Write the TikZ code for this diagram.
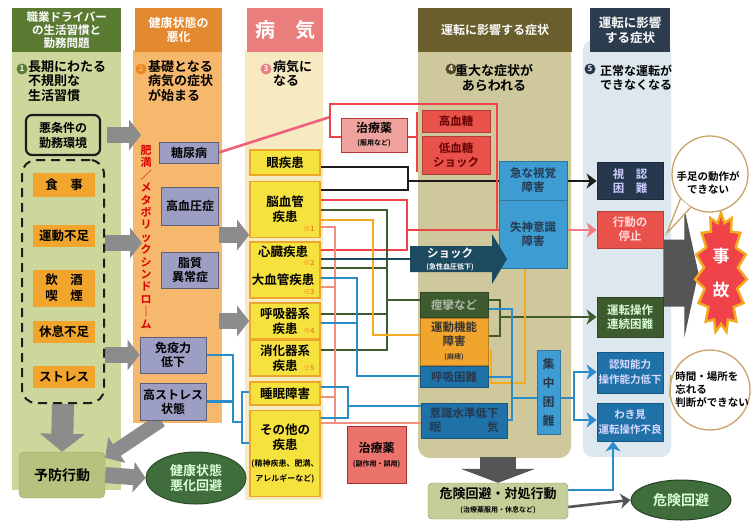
\documentclass[tikz,border=0pt]{standalone}
\usepackage{fontspec}
\setmainfont{Noto Sans CJK JP}[BoldFont={Noto Sans CJK JP Bold}]
\usetikzlibrary{arrows.meta,shapes.symbols,shapes.geometric}

\newcommand\jfs[2]{\fontsize{#1}{#2}\selectfont}

\definecolor{ghead}{HTML}{5B7B33}
\definecolor{gbody}{HTML}{CDD79C}
\definecolor{ohead}{HTML}{E3892F}
\definecolor{obody}{HTML}{F6B86C}
\definecolor{phead}{HTML}{EA7E7C}
\definecolor{pbody}{HTML}{F7E9C2}
\definecolor{khead}{HTML}{6A5E2C}
\definecolor{kbody}{HTML}{CEC89C}
\definecolor{nhead}{HTML}{2C3B4E}
\definecolor{nbody}{HTML}{DCE7EE}
\definecolor{orbx}{HTML}{F1A52C}
\definecolor{pubx}{HTML}{9D9EC3}
\definecolor{yebx}{HTML}{F6E23E}
\definecolor{yedr}{HTML}{EBA62B}
\definecolor{blbx}{HTML}{3D9DD3}
\definecolor{dbbx}{HTML}{1F72A8}
\definecolor{rdbx}{HTML}{E9524B}
\definecolor{pkbx}{HTML}{F0A39E}
\definecolor{dgbx}{HTML}{3E5A2F}
\definecolor{nvbx}{HTML}{27384E}
\definecolor{lgbx}{HTML}{B7C27E}
\definecolor{egrn}{HTML}{3F6D3B}
\definecolor{garr}{HTML}{8C8C8C}
\definecolor{darr}{HTML}{555555}
\definecolor{cred}{HTML}{EF4249}
\definecolor{cpnk}{HTML}{F0607A}
\definecolor{csal}{HTML}{F2907F}
\definecolor{cgrn}{HTML}{3F5B2F}
\definecolor{corg}{HTML}{F3AA1F}
\definecolor{cblu}{HTML}{2A8DC9}
\definecolor{cnav}{HTML}{1E4A5F}
\definecolor{cblk}{HTML}{1C1C1C}
\definecolor{bubc}{HTML}{C9A46A}

\pgfdeclarelayer{back}
\pgfdeclarelayer{wires}
\pgfsetlayers{back,wires,main}

\begin{document}
\begin{tikzpicture}[x=1pt,y=-1pt,
  every node/.style={align=center,inner sep=0pt,font=\bfseries},
  hd/.style={text=white,anchor=north west,minimum height=44,font=\bfseries\jfs{12}{14}},
  lead/.style={align=left,anchor=north west,font=\bfseries\jfs{13}{14.5}},
  num/.style={circle,minimum size=11,text=white,font=\bfseries\jfs{8}{8}},
  obox/.style={fill=orbx,minimum width=62,font=\bfseries\jfs{12.5}{16}},
  pbox/.style={draw=pubx!60!black,line width=0.8pt,fill=pubx,font=\bfseries\jfs{12}{14}},
  ybox/.style={draw=yedr,line width=1.6pt,fill=yebx,minimum width=70,font=\bfseries\jfs{12.5}{15}},
  note/.style={text=yedr!80!red,font=\bfseries\jfs{7}{7}},
  sbox/.style={draw=#1!75!black,line width=0.8pt,fill=#1,font=\bfseries\jfs{11.5}{14}},
  wire/.style={line width=2.6pt},
  arrtip/.style={-{Stealth[length=10pt,width=15pt,inset=3pt]}},
  blk/.style={draw=garr,line width=#1},
  bubble/.style={circle,draw=bubc,line width=1.3pt,fill=white}]

\useasboundingbox (0,0) rectangle (751,520);

% column grounds
\begin{pgfonlayer}{back}
  \fill[white] (0,0) rectangle (751,520);
  \fill[gbody] (12,50) rectangle (121,490);
  \fill[obody] (133,50) rectangle (222,423);
  \fill[pbody] (245,50) rectangle (323,500);
  \fill[kbody,rounded corners=12] (418,40) rectangle (571,458);
  \fill[nbody,rounded corners=10] (583,40) rectangle (671,457);
\end{pgfonlayer}

% headers
\node[hd,fill=ghead,minimum width=109,font=\bfseries\jfs{11.5}{13}] (h1) at (12,8) {職業ドライバー\\の生活習慣と\\勤務問題};
\node[hd,fill=ohead,minimum width=87] (h2) at (135,8) {健康状態の\\悪化};
\node[hd,fill=phead,minimum width=76,font=\bfseries\jfs{20}{20}] (h3) at (247,8) {病　気};
\node[hd,fill=khead,minimum width=154] (h4) at (418,8) {運転に影響する症状};
\node[hd,fill=nhead,minimum width=80,font=\bfseries\jfs{12.5}{15}] (h5) at (590,8) {運転に影響\\する症状};

% 1: habits
\node[num,fill=ghead] at (22,69) {1};
\node[lead] (l1) at (28,60) {長期にわたる\\不規則な\\生活習慣};
\node[draw=cblk,line width=2.2pt,rounded corners=6,minimum width=74,minimum height=40,font=\bfseries\jfs{12}{15}] (kinmu) at (63,135) {悪条件の\\勤務環境};
\node[draw=cblk,line width=2pt,dash pattern=on 9pt off 6pt,rounded corners=14,minimum width=82,minimum height=243] (habit) at (63,281.5) {};
\node[obox,minimum height=24] (meal) at (64,185) {食　事};
\node[obox,minimum height=22] (move) at (64,236) {運動不足};
\node[obox,minimum height=37] (drink) at (64,288) {飲　酒\\喫　煙};
\node[obox,minimum height=22] (rest) at (64,332) {休息不足};
\node[obox,minimum height=22] (strs) at (64,377) {ストレス};
\node[fill=lgbx,draw=lgbx!85!black,rounded corners=5,minimum width=86,minimum height=46,font=\bfseries\jfs{14}{16}] (yobou) at (62,475) {予防行動};
\node[ellipse,fill=egrn,draw=egrn!70!black,line width=1pt,minimum width=100,minimum height=52,text=white!85!green,font=\bfseries\jfs{13}{15}] (avoid1) at (196,478) {健康状態\\悪化回避};

% 2: basic illness
\node[num,fill=ohead!80!orange,text=orange!60] at (141,69) {2};
\node[lead] (l2) at (148,60) {基礎となる\\病気の症状\\が始まる};
\node[text=red!85!black,font=\bfseries\jfs{11}{12.4}] (metabo) at (146,237) {肥\\満\\／\\メ\\タ\\ボ\\リ\\ッ\\ク\\シ\\ン\\ド\\ロ\\｜\\ム};
\node[pbox,minimum width=59,minimum height=21] (tonyo) at (189,152.5) {糖尿病};
\node[pbox,minimum width=57,minimum height=38] (ketsuatsu) at (190,206) {高血圧症};
\node[pbox,minimum width=57,minimum height=36] (shishitsu) at (190,270) {脂質\\異常症};
\node[pbox,minimum width=66,minimum height=36] (meneki) at (173,355) {免疫力\\低下};
\node[pbox,minimum width=66,minimum height=37] (kostress) at (173,401.5) {高ストレス\\状態};

% 3: illness
\node[num,fill=phead] at (266,69) {3};
\node[lead] (l3) at (273,60) {病気に\\なる};
\node[ybox,minimum height=25] (gan) at (285,162.5) {眼疾患};
\node[ybox,minimum height=56] (noukekkan) at (285,209.5) {脳血管\\疾患};
\node[note] at (309,229) {※1};
\node[ybox,minimum height=56] (heart) at (285,270) {};
\node[font=\bfseries\jfs{12.5}{15}] (shinzo) at (283,252) {心臓疾患};
\node[note] at (309,263) {※2};
\node[font=\bfseries\jfs{12.5}{15}] (daikekkan) at (283,280) {大血管疾患};
\node[note] at (309,292) {※3};
\node[ybox,minimum height=36] (kokyu) at (285,321) {呼吸器系\\疾患};
\node[note] at (309,331) {※4};
\node[ybox,minimum height=36] (shoka) at (285,358) {消化器系\\疾患};
\node[note] at (309,368) {※5};
\node[ybox,minimum height=23] (suimin) at (285,393.5) {睡眠障害};
\node[ybox,minimum height=86] (sonota) at (285,453.5) {その他の\\疾患\\[2pt]\jfs{8}{10}(精神疾患、肥満、\\\jfs{8}{10}アレルギーなど)};

% medicine
\node[draw=cred!80!black,fill=pkbx,line width=0.8pt,minimum width=66,minimum height=34,font=\bfseries\jfs{12}{13}] (med1) at (374,135) {治療薬\\\jfs{7}{9}(服用など)};
\node[sbox=rdbx,minimum width=68,minimum height=22,text=red!40!black] (hyper) at (456,121) {高血糖};
\node[sbox=rdbx,minimum width=68,minimum height=38,text=red!40!black] (hypo) at (456,155) {低血糖\\ショック};
\node[draw=cred!70!black,fill=rdbx!60!pkbx,line width=0.8pt,minimum width=59,minimum height=57,font=\bfseries\jfs{12}{14}] (med2) at (376.5,455) {治療薬\\\jfs{7}{9}(副作用・誤用)};

% 4: serious symptoms
\node[num,fill=khead!80!black] at (451,69) {4};
\node[lead,anchor=center,align=center] (l4) at (494,78) {重大な症状が\\あらわれる};
\node[sbox=blbx,minimum width=68,minimum height=39,text=nvbx] (shikaku) at (533,180.5) {急な視覚\\障害};
\node[sbox=blbx,minimum width=68,minimum height=68,text=nvbx] (shisshin) at (533,234) {失神意識\\障害};
\fill[cnav] (410,246) -- (492,246) -- (492,234) -- (507,259) -- (492,284) -- (492,272) -- (410,272) -- cycle;
\node[text=white,font=\bfseries\jfs{11.5}{12}] (shock) at (450,259) {ショック\\\jfs{7}{8}(急性血圧低下)};
\node[sbox=dgbx,minimum width=68,minimum height=25,text=dgbx!40!white] (keiren) at (454,305) {痙攣など};
\node[sbox=orbx,minimum width=68,minimum height=47,text=black!80] (undou) at (454,341.5) {運動機能\\障害\\\jfs{7}{8}(麻痺)};
\node[sbox=dbbx,minimum width=68,minimum height=21,text=nvbx] (kokyukon) at (454,377) {呼吸困難};
\node[sbox=dbbx,minimum width=86,minimum height=35,text=nvbx] (ishiki) at (464,420.5) {意識水準低下\\眠　　　　気};
\node[sbox=blbx,minimum width=23,minimum height=84,text=nvbx,font=\bfseries\jfs{12}{19}] (shuchu) at (548.5,392) {集\\中\\困\\難};
\node[fill=lgbx!80!white,draw=lgbx!80!black,rounded corners=4,minimum width=140,minimum height=36,font=\bfseries\jfs{13}{14}] (taisho) at (498,501) {危険回避・対処行動\\\jfs{7}{8}(治療薬服用・休息など)};

% 5: driving fails
\node[num,fill=nvbx] at (590,69) {5};
\node[lead,anchor=center,align=center,font=\bfseries\jfs{12}{14}] (l5) at (636,78) {正常な運転が\\できなくなる};
\node[sbox=nvbx,minimum width=66,minimum height=37,text=white!80!blue] (shinin) at (630,181) {視　認\\困　難};
\node[sbox=rdbx,minimum width=66,minimum height=37,text=white!85!red] (teishi) at (630,229.5) {行動の\\停止};
\node[sbox=dgbx,minimum width=66,minimum height=40,text=white!85!green] (sousa) at (630,317) {運転操作\\連続困難};
\node[sbox=dbbx,minimum width=66,minimum height=41,text=white!85!blue,font=\bfseries\jfs{10.5}{15}] (ninchi) at (630,372.5) {認知能力\\操作能力低下};
\node[sbox=dbbx,minimum width=66,minimum height=38,text=white!85!blue,font=\bfseries\jfs{10.5}{15}] (wakimi) at (630,422) {わき見\\運転操作不良};
\node[starburst,starburst points=15,starburst point height=9pt,random starburst=0,fill=cred,draw=corg,line width=2.5pt,minimum width=52pt,minimum height=120pt,text=white,font=\bfseries\jfs{17}{34}] (jiko) at (721,273) {事\\故};
\node[ellipse,fill=egrn,draw=egrn!60!black,line width=1pt,minimum width=100,minimum height=40,text=white!85!green,font=\bfseries\jfs{14}{16}] (kaihi) at (681,500) {危険回避};

% speech bubbles
\node[bubble,minimum size=76] (b1) at (710,174) {};
\fill[white] (b1.220) -- (667,233) -- (b1.240) -- cycle;
\draw[bubc,line width=1.3pt] (b1.220) -- (667,233) -- (b1.240);
\node[font=\bfseries\jfs{10.5}{13}] (b1t) at (708,183) {手足の動作が\\できない};
\node[bubble,minimum size=80] (b2) at (710,390) {};
\fill[white] (b2.168) -- (671,375) -- (b2.190) -- cycle;
\draw[bubc,line width=1.3pt] (b2.168) -- (671,375) -- (b2.190);
\node[align=left,font=\bfseries\jfs{10.5}{13}] (b2t) at (712,390) {時間・場所を\\忘れる\\判断ができない};

\begin{pgfonlayer}{wires}
  % big grey arrows
  \draw[blk=16pt,-{Triangle[width=30pt,length=12pt]}] ([xshift=6]kinmu.east) -- ++(34,0);
  \draw[blk=16pt,-{Triangle[width=30pt,length=12pt]}] (habit.east |- 0,243) -- ++(37,0);
  \draw[blk=16pt,-{Triangle[width=30pt,length=12pt]}] (habit.east |- meneki) -- (meneki.west);
  \draw[blk=16pt,-{Triangle[width=30pt,length=12pt]}] (ketsuatsu.east |- 0,235) -- (noukekkan.west |- 0,235);
  \draw[blk=16pt,-{Triangle[width=30pt,length=12pt]}] (shishitsu.east |- kokyu) -- (kokyu.west);
  \draw[blk=22pt,-{Triangle[width=44pt,length=18pt]}] (habit.south) -- (yobou.north);
  \draw[blk=14pt,-{Triangle[width=30pt,length=14pt]}] ([xshift=-12]kostress.south) -- ([yshift=-6]yobou.north east);
  \draw[blk=16pt,-{Triangle[width=30pt,length=12pt]}] (yobou.east) -- (avoid1.west);
  \draw[draw=darr,line width=36pt,-{Triangle[width=74pt,length=14pt]}] (taisho.north |- 0,457) -- (taisho.north);
  \draw[draw=darr,line width=67pt,-{Triangle[width=128pt,length=14pt]}] (sousa.east |- jiko) -- (jiko.west);

  % eye line
  \draw[wire,cblk] (gan.east |- 0,167) -- (408,167) -- (408,181);
  \draw[wire,cblk,arrtip] (noukekkan.east |- 0,190) -- (408,190) -- (408,181) -- (shinin.west |- 0,181);
  % red lines
  \draw[wire,cred] (noukekkan.east |- 0,200) -- (407,200) -- (407,250) -- (heart.east |- 0,250);
  \draw[wire,cred] (407,230) -- (shisshin.west |- 0,230);
  \draw[wire,cpnk] (tonyo.east) -- (330,117);
  \draw[wire,cred] (med1.west |- 0,137) -- (330,137) -- (330,104) -- (497,104) -- (497,230);
  \draw[wire,cred] (med1.east |- 0,137) -- (417,137);
  \draw[wire,cred] (417,112) -- (417,172);
  \draw[wire,cred!70!white,arrtip] (shisshin.east |- 0,230) -- (teishi.west |- 0,230);
  % dark green lines
  \draw[wire,cgrn] (noukekkan.east |- 0,210) -- (387,210) -- (387,350) -- (shoka.east |- 0,350);
  \draw[wire,cgrn] (heart.east |- 0,268) -- (387,268);
  \draw[wire,cgrn] (kokyu.east |- 0,314) -- (387,314);
  \draw[wire,cgrn] (387,300) -- (keiren.west |- 0,300);
  \draw[wire,cgrn] (keiren.east |- 0,300) -- (500,300) -- (500,336) -- (undou.east |- 0,336);
  \draw[wire,cgrn,arrtip] (500,317) -- (sousa.west |- 0,317);
  % orange lines
  \draw[wire,corg] (noukekkan.east |- 0,220) -- (373,220) -- (373,335) -- (undou.west |- 0,335);
  \draw[wire,corg] (shisshin.south -| 525,0) -- (525,383) -- (491,383) -- (491,350);
  % salmon lines
  \draw[wire,csal] (noukekkan.east |- 0,227) -- (335,227) -- (335,423) -- (ishiki.west |- 0,423);
  \draw[wire,csal] (heart.east |- 0,287) -- (335,287);
  \draw[wire,csal] (suimin.east |- 0,397) -- (335,397);
  \draw[wire,csal] (sonota.east |- 0,423) -- (335,423);
  % shock
  \draw[wire,cnav] (heart.east |- 0,259) -- (411,259);
  % blue lines
  \draw[wire,cblu] (heart.east |- 0,278) -- (357,278) -- (357,376) -- (kokyukon.west |- 0,376);
  \draw[wire,cblu] (kokyu.east |- 0,323) -- (357,323);
  \draw[wire,cblu] (suimin.east |- 0,387) -- (348,387) -- (348,418) -- (sonota.east |- 0,418);
  \draw[wire,cblu] (348,406) -- (ishiki.west |- 0,406);
  \draw[wire,cblu] (meneki.east) -- (233,355) -- (233,422) -- (242,422);
  \draw[wire,cblu] (kostress.east) -- (233,401.5);
  \draw[wire,cblu] (suimin.west |- 0,392) -- (242,392) -- (242,443) -- (sonota.west |- 0,443);
  \draw[wire,cblu] (keiren.east |- 0,309) -- (512,309) -- (512,420) -- (ishiki.east |- 0,420);
  \draw[wire,cblu] (kokyukon.east |- 0,377) -- (512,377);
  \draw[wire,cblu] (512,398) -- (shuchu.west |- 0,398);
  \draw[wire,cblu] (shuchu.east |- 0,398) -- (574,398);
  \draw[wire,cblu,arrtip] (574,398) -- (574,372) -- (ninchi.west |- 0,372);
  \draw[wire,cblu,arrtip] (574,398) -- (574,420) -- (wakimi.west |- 0,420);
  \draw[wire,cblu,arrtip] (taisho.east |- 0,490) -- (613,490) -- (wakimi.south -| 613,0);
  \draw[wire,darr,arrtip] (taisho.east |- 0,507) -- (kaihi.west);
\end{pgfonlayer}
\end{tikzpicture}
\end{document}
